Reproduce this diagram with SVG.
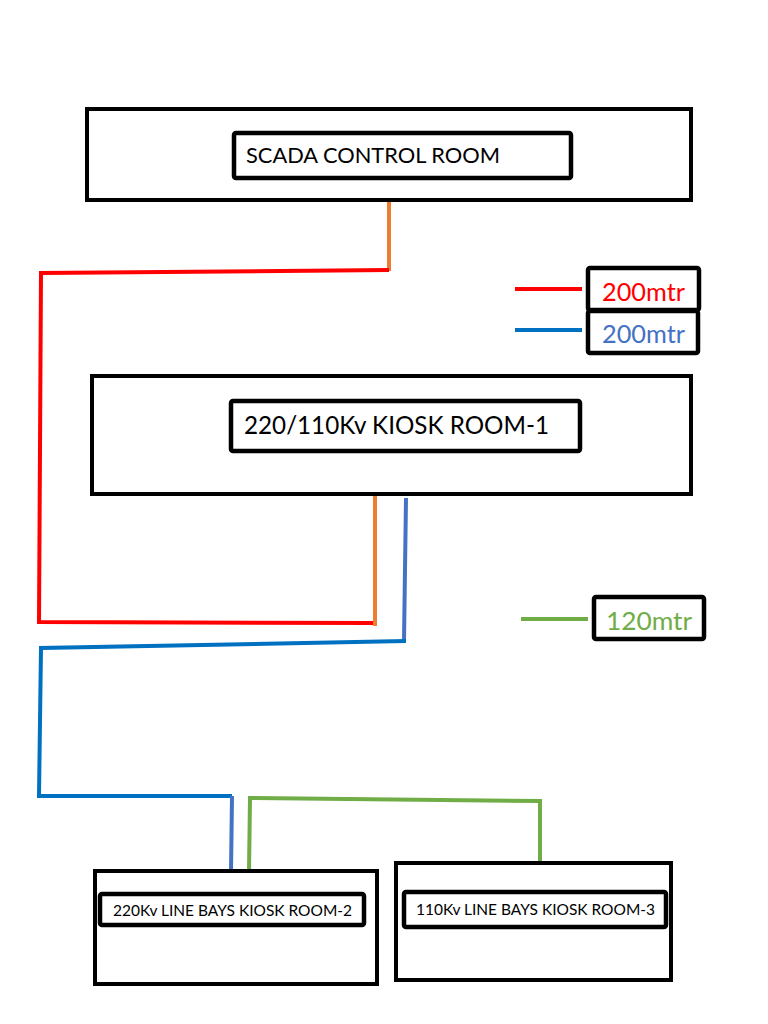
<svg xmlns="http://www.w3.org/2000/svg" width="768" height="1024" viewBox="0 0 768 1024">
<style>
.box{fill:#fff;stroke:#000;stroke-width:4}
.inner{fill:#fff;stroke:#000;stroke-width:4.5}
.t{font-family:Lato,"Liberation Sans",sans-serif;fill:#000}
.w{fill:none;stroke-width:4;stroke-linejoin:miter}
</style>
<rect width="768" height="1024" fill="#fff"/>
<g id="connectors">
<polyline class="w" stroke="#ED7D31" points="389,200 389,271"/>
<polyline class="w" stroke="#FF0000" points="389,270 41,273 39,622 373,623"/>
<polyline class="w" stroke="#ED7D31" points="375,495 375,626"/>
<polyline class="w" stroke="#4472C4" points="406,498 404,641"/>
<polyline class="w" stroke="#0070C0" points="406,641 41,648 39,796 232,796"/>
<polyline class="w" stroke="#4472C4" points="232,796 231,872"/>
<polyline class="w" stroke="#70AD47" points="249,872 250,798 540,801 540,862"/>
</g>
<g id="scada">
<rect class="box" x="87" y="109" width="604" height="91"/>
<rect class="inner" x="234" y="133" width="337" height="45" rx="2"/>
<text class="t" x="246" y="163" font-size="21" textLength="254" lengthAdjust="spacingAndGlyphs">SCADA CONTROL ROOM</text>
</g>
<g id="legend-red">
<line x1="515" y1="289" x2="582" y2="289" stroke="#FF0000" stroke-width="4"/>
<rect class="inner" x="588" y="268" width="111" height="42" rx="2"/>
<text class="t" x="602" y="301" font-size="25" style="fill:#FF0000" textLength="83" lengthAdjust="spacingAndGlyphs">200mtr</text>
</g>
<g id="legend-blue">
<line x1="515" y1="330" x2="582" y2="330" stroke="#0070C0" stroke-width="4"/>
<rect class="inner" x="588" y="311" width="110" height="42" rx="2"/>
<text class="t" x="602" y="343" font-size="25" style="fill:#4472C4" textLength="83" lengthAdjust="spacingAndGlyphs">200mtr</text>
</g>
<g id="kiosk1">
<rect class="box" x="92" y="376" width="599" height="118"/>
<rect class="inner" x="231" y="401" width="349" height="50" rx="2"/>
<text class="t" x="244" y="434" font-size="25" textLength="305" lengthAdjust="spacingAndGlyphs">220/110Kv KIOSK ROOM-1</text>
</g>
<g id="legend-green">
<line x1="521" y1="619" x2="588" y2="619" stroke="#70AD47" stroke-width="4"/>
<rect class="inner" x="594" y="597" width="110" height="42" rx="2"/>
<text class="t" x="606" y="630" font-size="25" style="fill:#70AD47" textLength="86" lengthAdjust="spacingAndGlyphs">120mtr</text>
</g>
<g id="kiosk2">
<rect class="box" x="95" y="871" width="282" height="113"/>
<rect class="inner" x="100" y="894" width="264" height="31" rx="2"/>
<text class="t" x="113" y="916" font-size="15" textLength="239" lengthAdjust="spacingAndGlyphs">220Kv LINE BAYS KIOSK ROOM-2</text>
</g>
<g id="kiosk3">
<rect class="box" x="396" y="863" width="275" height="117"/>
<rect class="inner" x="404" y="892" width="262" height="35" rx="2"/>
<text class="t" x="416" y="915" font-size="15" textLength="239" lengthAdjust="spacingAndGlyphs">110Kv LINE BAYS KIOSK ROOM-3</text>
</g>
</svg>
